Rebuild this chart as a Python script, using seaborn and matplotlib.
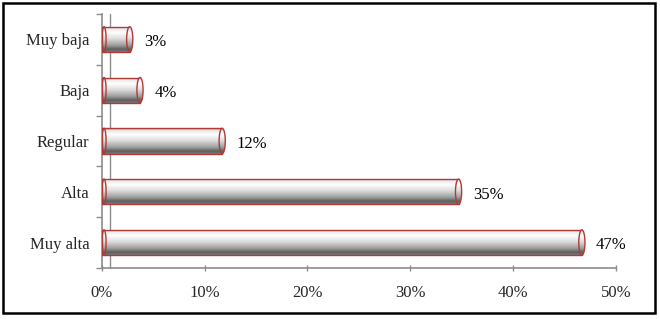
#!/usr/bin/env python3
"""
Horizontal cylinder-style bar chart (valoracion por categoria)
"""

import numpy as np
import pandas as pd
import matplotlib
matplotlib.use("Agg")
import matplotlib.pyplot as plt
import seaborn as sns
from matplotlib.colors import LinearSegmentedColormap
from matplotlib.patches import Rectangle, Ellipse

# data
categories = ["Muy baja", "Baja", "Regular", "Alta", "Muy alta"]
percent = [3, 4, 12, 35, 47]
x_ticks = [0, 10, 20, 30, 40, 50]

df = pd.DataFrame({"categoria": categories, "porcentaje": percent})

sns.set_theme(style="white")
plt.rcParams["font.family"] = ["Liberation Serif", "DejaVu Serif"]

fig = plt.figure(figsize=(6.6, 3.19), dpi=100)
ax = fig.add_axes([0.1545, 0.16, 0.7785, 0.796])

ax = sns.barplot(data=df, x="porcentaje", y="categoria", orient="h",
                 order=categories, width=0.5, color="white", ax=ax)

# shading of the cylinders (top -> bottom)
cyl = LinearSegmentedColormap.from_list("cyl", [
    (0.0, "#9a9a9a"), (0.08, "#e6e6e6"), (0.25, "#ffffff"),
    (0.5, "#d9d9d9"), (0.75, "#9c9c9c"), (0.9, "#5e5e5e"), (1.0, "#7a7a7a")])
grad = np.linspace(0, 1, 64).reshape(-1, 1)
edge = "#b03a36"
r = 0.3  # half width of the end caps, in data units

for patch in list(ax.patches):
    x0, y0 = patch.get_x(), patch.get_y()
    w, h = patch.get_width(), patch.get_height()
    patch.set_width(w - r)
    patch.set_facecolor("none")
    patch.set_edgecolor(edge)
    patch.set_linewidth(1.0)
    patch.set_zorder(3)
    im = ax.imshow(grad, cmap=cyl, aspect="auto", origin="upper",
                   extent=(x0, x0 + w, y0 + h, y0), zorder=2)
    im.set_clip_path(patch)
    # rounded right end
    cap = Ellipse((x0 + w - r, y0 + h / 2), 2 * r, h, facecolor="none",
                  edgecolor=edge, linewidth=1.0, zorder=4)
    ax.add_patch(cap)
    im2 = ax.imshow(grad, cmap=cyl, aspect="auto", origin="upper",
                    extent=(x0, x0 + w, y0 + h, y0), zorder=3.5)
    im2.set_clip_path(cap)
    # left end of the cylinder
    ax.add_patch(Ellipse((x0 + 0.2, y0 + h / 2), 0.4, h, facecolor="none",
                         edgecolor=edge, linewidth=1.0, zorder=4))

# value labels
for i, v in enumerate(percent):
    ax.annotate(f"{v}%", xy=(v, i), xytext=(8, -2), textcoords="offset points",
                ha="left", va="center", fontsize=12, color="black")

ax.set_xlim(0, 50)
ax.set_ylim(4.5, -0.5)
ax.set_xticks(x_ticks)
ax.set_xticklabels([f"{t}%" for t in x_ticks], fontsize=12)
ax.set_yticks(range(len(categories)))
ax.set_yticklabels(categories, fontsize=12)
ax.set_yticks(np.arange(-0.5, len(categories)), minor=True)
ax.set_xlabel("")
ax.set_ylabel("")

ax.tick_params(axis="y", which="major", length=0, pad=9)
ax.tick_params(axis="y", which="minor", length=4, color="#8c8c8c", width=1, left=True)
ax.tick_params(axis="x", which="major", length=4, color="#8c8c8c", width=1,
               direction="inout", bottom=True, pad=10)

for side in ["top", "right"]:
    ax.spines[side].set_visible(False)
for side in ["left", "bottom"]:
    ax.spines[side].set_color("#8c8c8c")
    ax.spines[side].set_linewidth(1.2)

# back wall of the 3D plot area
ax.plot([0.8, 0.8], [4.5, -0.5], color="#8c8c8c", lw=1.0, clip_on=False, zorder=1)

# outer frame
fig.add_artist(Rectangle((0.004, 0.02), 0.988, 0.97, transform=fig.transFigure,
                         fill=False, edgecolor="black", linewidth=1.8))

fig.savefig("out.png", dpi=100)
